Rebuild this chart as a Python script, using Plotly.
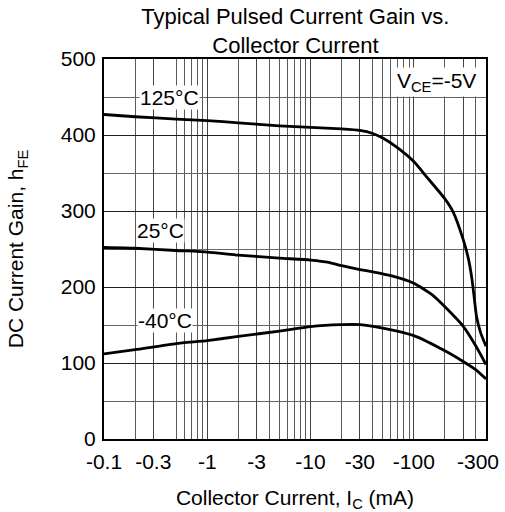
import plotly.graph_objects as go

# Collector current magnitude (mA) and DC current gain hFE
ic_125 = [0.1, 0.2, 0.5, 1, 2, 5, 10, 20, 30, 40, 50, 73, 100, 133, 200, 240, 300, 338, 366, 386, 404, 443, 500]
hfe_125 = [427, 424, 421, 419, 416, 412, 410, 408, 406, 402, 396, 381, 365, 345, 316, 299, 263, 237, 210, 184, 162, 140, 122]

ic_25 = [0.1, 0.2, 0.5, 1, 2, 5, 10, 15, 20, 30, 40, 60, 100, 150, 200, 300, 400, 500]
hfe_25 = [252, 251, 248, 246, 242, 238, 235.5, 232.5, 228, 223, 220, 215, 205, 190, 174, 148.5, 122, 98]

ic_m40 = [0.1, 0.2, 0.5, 1, 2, 5, 10, 20, 30, 50, 100, 200, 300, 400, 500]
hfe_m40 = [112, 117.5, 125.5, 129.5, 135, 142, 148, 150.5, 150.5, 146, 136, 116, 102, 91, 79]

x_tickvals = [0.1, 0.3, 1, 3, 10, 30, 100, 300]
x_ticktext = ["-0.1", "-0.3", "-1", "-3", "-10", "-30", "-100", ""]
last_label = "-300"
x_gridvals = [0.2, 0.5, 0.6, 0.7, 0.8, 0.9,
              2, 4, 5, 6, 7, 8, 9,
              20, 40, 50, 60, 70, 80, 90,
              200, 400]

FONT = "Arial, Liberation Sans, sans-serif"
FS = 21

fig = go.Figure()
for xs, ys in [(ic_125, hfe_125), (ic_25, hfe_25), (ic_m40, hfe_m40)]:
    fig.add_trace(go.Scatter(x=xs, y=ys, mode="lines",
                             line=dict(color="black", width=2.8, shape="spline", smoothing=0.5),
                             showlegend=False, hoverinfo="skip"))

labels = [("125°C", -0.363, 450), ("25°C", -0.451, 274), ("-40°C", -0.412, 156)]
for t, lx, ly in labels:
    fig.add_annotation(x=lx, y=ly, xref="x", yref="y", text=t, showarrow=False,
                       font=dict(family=FONT, size=FS, color="black"),
                       bgcolor="white", borderpad=0)
fig.add_annotation(x=2.224, y=470, xref="x", yref="y",
                   text="V<sub>CE</sub>=-5V", showarrow=False,
                   font=dict(family=FONT, size=FS, color="black"),
                   bgcolor="white", borderpad=1)
# last tick label, drawn slightly right of its gridline as in the reference
fig.add_annotation(x=2.477, y=0, xref="x", yref="paper", yanchor="top",
                   text=last_label, showarrow=False, xshift=15, yshift=-9,
                   font=dict(family=FONT, size=FS, color="black"))

fig.update_layout(
    width=505, height=512,
    margin=dict(l=104, r=19, t=59, b=73, autoexpand=False),
    paper_bgcolor="white", plot_bgcolor="white",
    font=dict(family=FONT, size=FS, color="black"),
    title=dict(text="Typical Pulsed Current Gain vs.<br>Collector Current",
               x=0.585, xanchor="center", y=0.953, yanchor="top",
               font=dict(family=FONT, size=22, color="black")),
)
fig.update_xaxes(type="log", range=[-1, 2.699],
                 tickmode="array", tickvals=x_tickvals, ticktext=x_ticktext,
                 tickangle=0, automargin=False,
                 showgrid=True, gridcolor="#444444", gridwidth=1,
                 minor=dict(tickmode="array", tickvals=x_gridvals, showgrid=True,
                            gridcolor="#5a5a5a", gridwidth=1, ticks=""),
                 showline=True, linecolor="black", linewidth=2, mirror=True,
                 ticks="", ticklabelstandoff=3,
                 tickfont=dict(family=FONT, size=FS),
                 title=dict(text="Collector Current, I<sub>C</sub> (mA)",
                            font=dict(family=FONT, size=FS), standoff=23),
                 zeroline=False)
fig.update_yaxes(range=[0, 500], tickmode="array", tickvals=[0, 100, 200, 300, 400, 500],
                 automargin=False,
                 showgrid=True, gridcolor="#222222", gridwidth=1,
                 minor=dict(tickmode="array", tickvals=[50, 150, 250, 350, 450],
                            showgrid=True, gridcolor="#666666", gridwidth=1, ticks=""),
                 showline=True, linecolor="black", linewidth=2, mirror=True,
                 ticks="", ticklabelstandoff=2,
                 tickfont=dict(family=FONT, size=FS),
                 title=dict(text="DC Current Gain, h<sub>FE</sub>",
                            font=dict(family=FONT, size=FS), standoff=31),
                 zeroline=False)

fig.write_html("out.html", config={"displayModeBar": False},
               post_script="document.body.style.margin='0';document.body.style.overflow='hidden';")
